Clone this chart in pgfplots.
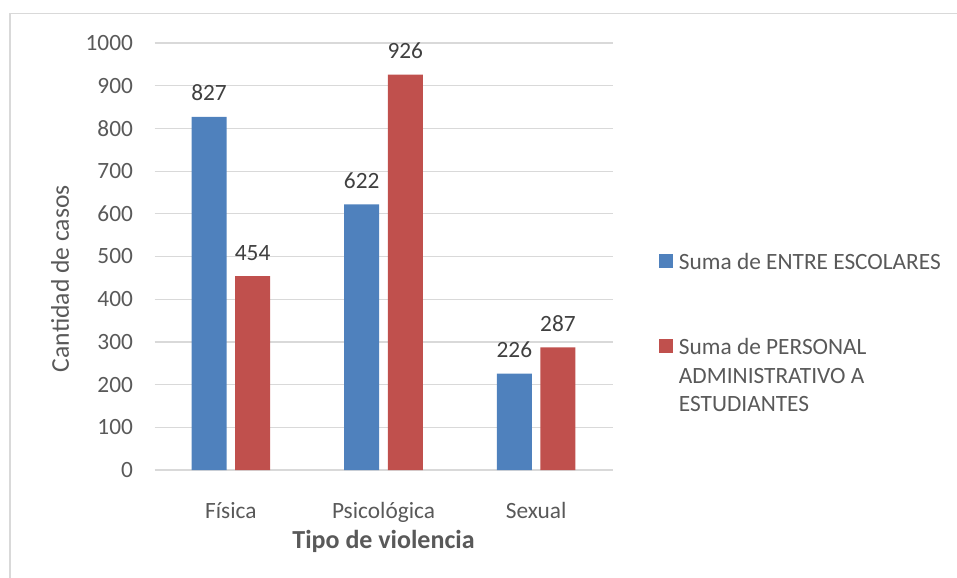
\documentclass[border=0pt]{standalone}
\usepackage{pgfplots}
\pgfplotsset{compat=1.18}
\usepackage{fontspec}
\setmainfont{Carlito}
\definecolor{cblue}{HTML}{4F81BD}
\definecolor{cred}{HTML}{C0504D}
\definecolor{gridc}{HTML}{D9D9D9}
\definecolor{txt}{HTML}{595959}
\definecolor{num}{HTML}{404040}
\begin{document}
\begin{tikzpicture}
\path[use as bounding box] (0pt,0pt) rectangle (717.75pt,-433.5pt);
\draw[gridc, line width=1.1pt] (7.5pt,-433.5pt) -- (7.5pt,-10.1pt) -- (717.75pt,-10.1pt);
\begin{axis}[
  at={(115.875pt,-352.5pt)}, anchor=south west,
  scale only axis, width=343.5pt, height=320.25pt,
  ybar=6.4pt, bar width=26.25pt,
  xmin=-0.5, xmax=2.5, ymin=0, ymax=1000,
  xtick=data, xticklabels={Física,Psicológica,Sexual},
  ytick={0,100,...,1000},
  /pgf/number format/assume math mode=true,
  /pgf/number format/set thousands separator={},
  ymajorgrids, major grid style={gridc, line width=0.9pt},
  axis line style={draw=none}, tick style={draw=none},
  ticklabel style={font=\fontsize{17.5pt}{21pt}\selectfont, text=txt},
  xticklabel style={anchor=base, inner sep=0pt, yshift=-32.25pt},
  yticklabel style={anchor=east, inner sep=0pt, xshift=-16pt},
  xlabel={\textbf{Tipo de violencia}},
  xlabel style={at={(axis description cs:0.5,0)}, anchor=base, inner sep=0pt, yshift=-58.5pt, font=\fontsize{19.5pt}{23pt}\selectfont, text=txt},
  ylabel={Cantidad de casos},
  ylabel style={at={(axis description cs:-0.2063,0.448)}, anchor=center, inner sep=0pt, font=\fontsize{19.2pt}{22pt}\selectfont, text=txt},
  nodes near coords,
  every node near coord/.append style={anchor=south, inner sep=0pt, yshift=11.6pt, font=\fontsize{17.5pt}{21pt}\selectfont, text=num},
  legend cell align=left,
  legend image code/.code={\fill[#1] (0pt,1.5pt) rectangle (10.5pt,12pt);},
  legend style={draw=none, fill=none, inner sep=0pt, outer sep=0pt,
    at={(axis description cs:1.1015,0.507)}, anchor=north west,
    row sep=50pt, column sep=4.5pt,
    font=\fontsize{17.5pt}{21.5pt}\selectfont, text=txt,
    nodes={inner sep=0pt, anchor=base west}},
]
\addplot[fill=cblue, draw=none] coordinates {(0,827) (1,622) (2,226)};
\addlegendentry{Suma de ENTRE ESCOLARES}
\addplot[fill=cred, draw=none] coordinates {(0,454) (1,926) (2,287)};
\addlegendentry{\vtop{\hbox{Suma de PERSONAL}\hbox{ADMINISTRATIVO A}\hbox{ESTUDIANTES}}}
\end{axis}
\end{tikzpicture}
\end{document}
